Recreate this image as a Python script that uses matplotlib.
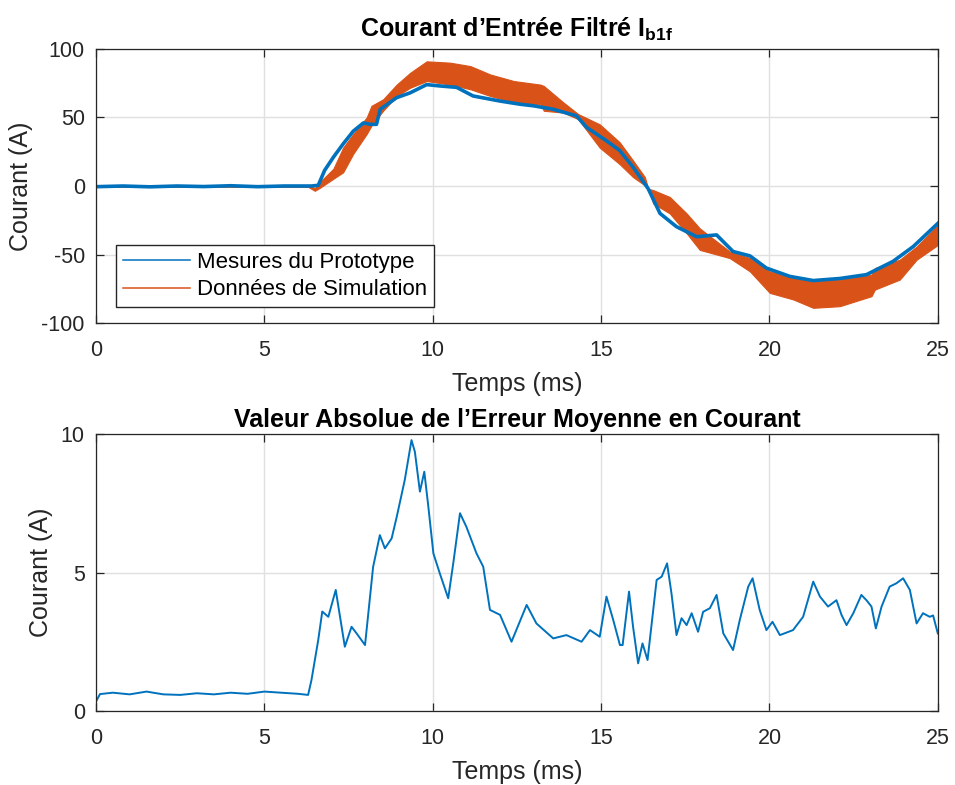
import matplotlib.pyplot as plt
from matplotlib.lines import Line2D

plt.rcParams['font.family'] = ['Liberation Sans', 'DejaVu Sans']
plt.rcParams['mathtext.fontset'] = 'custom'
plt.rcParams['mathtext.rm'] = 'Liberation Sans'
plt.rcParams['mathtext.bf'] = 'Liberation Sans:bold'
plt.rcParams['axes.unicode_minus'] = False

BLUE = '#0072BD'
ORANGE = '#D95319'
DARK = '#262626'

# --- top: measured current (blue) ---
t_meas = [0, 0.8, 1.6, 2.4, 3.2, 4.0, 4.8, 5.6, 6.4, 6.6, 6.79, 7.05, 7.34,
          7.64, 7.94, 8.15, 8.33, 8.44, 8.93, 9.33, 9.82, 10.22, 10.71, 11.2,
          12.0, 12.59, 13.0, 13.58, 14.27, 14.57, 15.16, 15.55, 15.95, 16.4,
          16.75, 17.24, 17.84, 18.43, 18.92, 19.42, 19.91, 20.61, 21.3, 22.09,
          22.88, 23.67, 24.27, 25.0]
i_meas = [-0.5, 0, -0.6, 0, -0.4, 0.2, -0.5, 0, 0, 0.5, 11.4, 21, 30.7,
          40, 46, 45, 45, 56, 64.5, 68, 74, 73, 72, 65.7,
          62, 59.7, 58.5, 56, 51.2, 42.8, 33, 26, 13.8, -2,
          -20, -29.7, -37, -35.7, -47.8, -51, -59.9, -66, -69, -67.5,
          -64.7, -55, -44.2, -27.3]

# --- top: simulation band (orange), upper / lower envelope ---
t_sim = [0, 6.3, 6.5, 6.65, 7.05, 7.34, 7.64, 8.04, 8.18, 8.53, 8.93, 9.33,
         9.82, 10.52, 11.12, 11.71, 12.41, 13.2, 13.3, 13.88, 14.32, 14.96,
         15.55, 15.95, 16.3, 16.4, 16.55, 17.04, 17.54, 17.93, 18.82, 19.42,
         20.01, 20.71, 21.3, 22.09, 23.03, 23.13, 23.87, 24.37, 25.0]
i_sim_hi = [0.6, 0.6, -1.5, 2.9, 12.6, 28, 38, 50, 58.5, 63.3, 74, 82.6,
            91, 90, 87.5, 81.4, 76.6, 74, 73, 61, 52.5, 45,
            32, 18.6, 6.5, -2, -3, -8, -20, -30.9, -47.8, -52.6,
            -62.3, -67, -69.5, -68.3, -64.7, -59.9, -53.8, -44.2, -28.5]
i_sim_lo = [-0.6, -0.6, -3.5, -1.3, 5.3, 10, 23.5, 38, 44, 55, 65.7, 71.7,
            76.6, 74, 70.6, 65.7, 61, 59.6, 54.9, 53.6, 48.8, 28,
            16, 6.5, 0.5, -2, -12.8, -20, -34.5, -46.6, -52.6, -62.3,
            -78, -82.8, -88.9, -87.7, -80.4, -75.6, -68.3, -53.8, -43]

# --- bottom: absolute mean error ---
t_err = [0, 0.12, 0.5, 1, 1.5, 2, 2.5, 3, 3.5, 4, 4.5, 5, 5.5, 6, 6.3, 6.4,
         6.6, 6.72, 6.9, 7.12, 7.39, 7.59, 7.74, 7.99, 8.23, 8.43, 8.58, 8.78,
         8.93, 9.17, 9.37, 9.47, 9.62, 9.75, 9.87, 10.02, 10.21, 10.46, 10.61,
         10.81, 11.0, 11.3, 11.5, 11.7, 12.0, 12.34, 12.79, 13.08, 13.58,
         13.97, 14.42, 14.67, 14.96, 15.16, 15.36, 15.56, 15.64, 15.83, 15.95,
         16.1, 16.23, 16.38, 16.65, 16.8, 16.96, 17.09, 17.24, 17.39, 17.54,
         17.69, 17.88, 18.03, 18.23, 18.43, 18.63, 18.92, 19.12, 19.37, 19.5,
         19.71, 19.91, 20.09, 20.31, 20.7, 21.0, 21.3, 21.5, 21.74, 21.99,
         22.14, 22.29, 22.49, 22.73, 22.88, 23.03, 23.16, 23.33, 23.57, 23.77,
         23.97, 24.17, 24.37, 24.56, 24.76, 24.86, 25.0]
e_err = [0.34, 0.61, 0.66, 0.6, 0.7, 0.6, 0.58, 0.64, 0.6, 0.66, 0.62, 0.7,
         0.66, 0.62, 0.58, 1.12, 2.56, 3.59, 3.4, 4.37, 2.32, 3.04, 2.8, 2.38,
         5.2, 6.35, 5.87, 6.23, 7.0, 8.34, 9.78, 9.36, 7.92, 8.64, 7.38, 5.69,
         4.97, 4.07, 5.33, 7.14, 6.65, 5.69, 5.21, 3.65, 3.47, 2.5, 3.83, 3.16,
         2.62, 2.74, 2.5, 2.92, 2.68, 4.13, 3.29, 2.38, 2.38, 4.31, 3.04, 1.72,
         2.44, 1.84, 4.73, 4.85, 5.33, 4.25, 2.74, 3.35, 3.1, 3.53, 2.86, 3.58,
         3.71, 4.19, 2.8, 2.2, 3.29, 4.49, 4.79, 3.65, 2.92, 3.22, 2.74, 2.92,
         3.4, 4.67, 4.13, 3.77, 4.0, 3.47, 3.1, 3.53, 4.19, 4.0, 3.77, 2.98,
         3.77, 4.49, 4.61, 4.79, 4.37, 3.16, 3.53, 3.4, 3.45, 2.8]

fig = plt.figure(figsize=(9.55, 7.85), dpi=100)
ax1 = fig.add_axes([0.1005, 0.5885, 0.8815, 0.3491])
ax2 = fig.add_axes([0.1005, 0.0943, 0.8815, 0.3528])

for ax in (ax1, ax2):
    ax.grid(True, color='#e0e0e0', linewidth=1.0)
    ax.set_axisbelow(True)
    ax.tick_params(direction='in', top=True, right=True, labelsize=15.5,
                   length=6, width=0.9, color=DARK, labelcolor=DARK)
    ax.tick_params(axis='x', pad=12)
    ax.tick_params(axis='y', pad=8)
    for s in ax.spines.values():
        s.set_color(DARK)
        s.set_linewidth(0.9)
    ax.set_xlim(0, 25)
    ax.set_xticks([0, 5, 10, 15, 20, 25])
    ax.set_xlabel('Temps (ms)', fontsize=18, color=DARK, labelpad=8)
    ax.set_ylabel('Courant (A)', fontsize=18, color=DARK, labelpad=6)

ax1.plot(t_meas, i_meas, color=BLUE, linewidth=2.6)
ax1.fill_between(t_sim, i_sim_lo, i_sim_hi, color=ORANGE, linewidth=0.8,
                 edgecolor=ORANGE)
ax1.set_ylim(-100, 100)
ax1.set_yticks([-100, -50, 0, 50, 100])
ax1.set_title('Courant d\u2019Entrée Filtré I$_{\\mathbf{b1f}}$',
              fontsize=18, fontweight='bold', pad=9)
handles = [Line2D([], [], color=BLUE, linewidth=1.1),
           Line2D([], [], color=ORANGE, linewidth=1.1)]
ax1.legend(handles, ['Mesures du Prototype', 'Données de Simulation'],
           loc='lower left', bbox_to_anchor=(0.024, 0.058), fontsize=16,
           fancybox=False, edgecolor=DARK, framealpha=1, borderaxespad=0,
           handlelength=3.0, handletextpad=0.35, borderpad=0.3,
           labelspacing=0.3)

ax2.plot(t_err, e_err, color=BLUE, linewidth=1.4)
ax2.set_ylim(0, 10)
ax2.set_yticks([0, 5, 10])
ax2.set_title('Valeur Absolue de l\u2019Erreur Moyenne en Courant',
              fontsize=18, fontweight='bold', pad=5)

fig.savefig('out.png', dpi=100)
